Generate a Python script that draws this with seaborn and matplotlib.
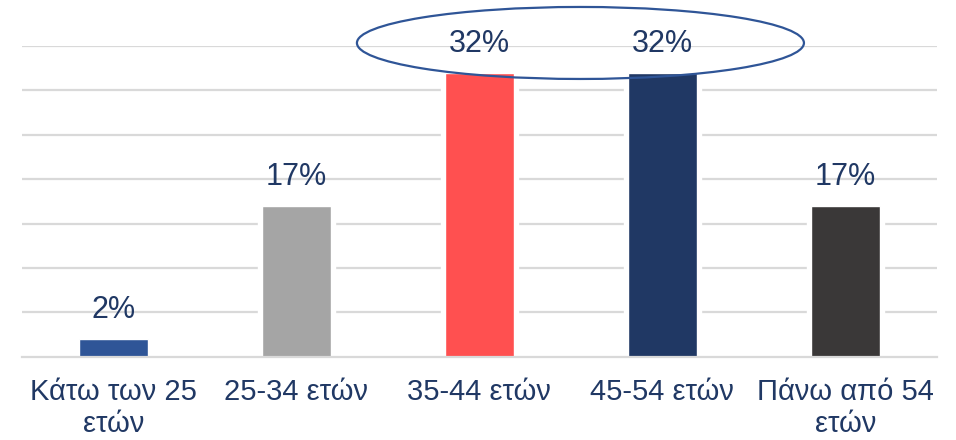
import matplotlib
matplotlib.use("Agg")
import matplotlib.pyplot as plt
from matplotlib.patches import Ellipse
import seaborn as sns
import pandas as pd

categories = ["Κάτω των 25\nετών", "25-34 ετών", "35-44 ετών", "45-54 ετών", "Πάνω από 54\nετών"]
values = [2, 17, 32, 32, 17]
labels = ["2%", "17%", "32%", "32%", "17%"]
colors = ["#2F5597", "#A5A5A5", "#FF5050", "#203864", "#3A3838"]

sns.set_theme(style="white")
plt.rcParams["font.family"] = ["Liberation Sans", "DejaVu Sans"]

TEXT = "#203864"
GRID = "#D9D9D9"

df = pd.DataFrame({"cat": categories, "val": values})

fig = plt.figure(figsize=(9.56, 4.4), dpi=100)
ax = fig.add_axes([0.023, 0.1893, 0.957, 0.7062])

# gridlines
ax.set_ylim(0, 35)
ax.set_yticks([5, 10, 15, 20, 25, 30, 35])
ax.yaxis.grid(True, color=GRID, linewidth=1.6, zorder=0)
ax.set_axisbelow(True)

# white halo behind bars to cut the gridlines
sns.barplot(data=df, x="cat", y="val", color="white", width=0.42,
            ax=ax, zorder=2, saturation=1, errorbar=None)
sns.barplot(data=df, x="cat", y="val", hue="cat", palette=colors, width=0.377,
            ax=ax, zorder=3, saturation=1, legend=False, errorbar=None)

ax.set_xlim(-0.5, len(categories) - 0.5)
ax.set_ylim(0, 35)

for i, (v, lab) in enumerate(zip(values, labels)):
    ax.annotate(lab, xy=(i, v), xytext=(0, 15), textcoords="offset points",
                ha="center", va="baseline", fontsize=22, color=TEXT, zorder=5)

# ellipse highlight around the two largest bars
ell = Ellipse((2.552, 35.34), width=2.443, height=8.11, fill=False,
              edgecolor="#2F5597", linewidth=1.6, clip_on=False, zorder=6)
ax.add_patch(ell)

ax.set_xlabel("")
ax.set_ylabel("")
ax.set_yticklabels([])
ax.tick_params(axis="y", length=0)
for s in ["top", "right", "left"]:
    ax.spines[s].set_visible(False)
ax.spines["bottom"].set_color(GRID)
ax.spines["bottom"].set_linewidth(1.6)
ax.spines["bottom"].set_zorder(4)

ax.set_xticks(range(len(categories)))
ax.set_xticklabels(categories, fontsize=21, color=TEXT, linespacing=1.2)
ax.tick_params(axis="x", which="major", length=0, pad=15)
ax.set_xticks([i - 0.5 for i in range(len(categories) + 1)], minor=True)
ax.tick_params(axis="x", which="minor", length=6.5, width=1.6, color=GRID, direction="out")

fig.savefig("out.png", dpi=100)
